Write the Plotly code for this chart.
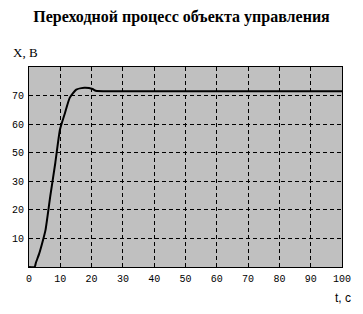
import plotly.graph_objects as go

# time, s
t = [0, 1.8, 2.2, 3.2, 4.25, 5.3, 6.8, 8.4, 9.9, 11.5, 13.0, 15.1, 17.7, 20.3, 21.3, 25.5, 30, 40, 50, 60, 70, 80, 90, 100]
# output (in grid-position units)
x = [0, 0, 1.5, 4.5, 8.5, 13.1, 24.8, 36.4, 48.1, 53.9, 59.2, 62.1, 62.7, 62.3, 61.7, 61.5, 61.5, 61.5, 61.5, 61.5, 61.5, 61.5, 61.5, 61.5]

x_ticks = [0, 10, 20, 30, 40, 50, 60, 70, 80, 90, 100]
y_tickvals = [10, 20, 30, 40, 50, 60]
y_ticktext = ["10", "20", "30", "50", "60", "70"]

fig = go.Figure()
fig.add_trace(go.Scatter(x=t, y=x, mode="lines", line=dict(color="black", width=2, shape="spline", smoothing=0.5),
                         showlegend=False, hoverinfo="skip"))

tickfont = dict(family="Liberation Mono, DejaVu Sans Mono, monospace", size=10, color="black")
fig.update_layout(
    width=363, height=314,
    margin=dict(l=23, r=18, t=67, b=47),
    paper_bgcolor="white", plot_bgcolor="#C0C0C0",
    title=dict(text="<b>Переходной процесс объекта управления</b>", x=0.5, xanchor="center",
               y=1 - 16/314, yanchor="middle",
               font=dict(family="Liberation Serif, Times New Roman, serif", size=16, color="black")),
    xaxis=dict(range=[0, 100], tickvals=x_ticks, ticks="", showgrid=True, gridcolor="black", gridwidth=1,
               griddash="4px,3px", showline=True, linecolor="black", linewidth=1, mirror=True,
               zeroline=False, tickfont=tickfont, ticklabelstandoff=2, fixedrange=True),
    yaxis=dict(range=[0, 70], tickvals=y_tickvals, ticktext=y_ticktext, ticks="", showgrid=True,
               gridcolor="black", gridwidth=1, griddash="4px,3px", showline=True, linecolor="black",
               linewidth=1, mirror=True, zeroline=False, tickfont=tickfont, ticklabelstandoff=2,
               fixedrange=True),
    annotations=[
        dict(text="X, B", xref="paper", yref="paper", x=-19/322, y=1 + 14/200, xanchor="left", yanchor="middle",
             showarrow=False, font=dict(family="Liberation Serif, Times New Roman, serif", size=13, color="black")),
        dict(text="t, c", xref="paper", yref="paper", x=1 + 11/322, y=-31/200, xanchor="right", yanchor="middle",
             showarrow=False, font=dict(family="Liberation Sans, Arial, sans-serif", size=12, color="black")),
    ],
)
fig.write_html("out.html")
